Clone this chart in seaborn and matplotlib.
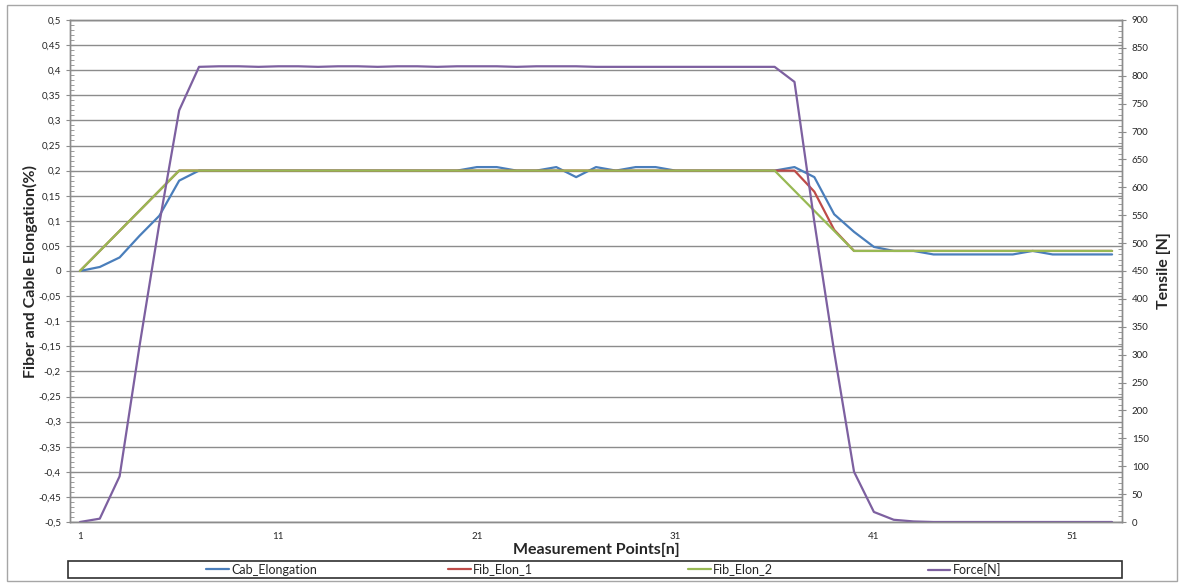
import numpy as np
import pandas as pd
import matplotlib
matplotlib.use("Agg")
import matplotlib.pyplot as plt
from matplotlib.ticker import MultipleLocator, FuncFormatter, FixedLocator
from matplotlib.patches import Rectangle
import seaborn as sns

# Measurement points (categories)
points = list(range(1, 54))

# Elongation series (%), left axis
cab_elongation = [0, 0.008, 0.027, 0.07, 0.11, 0.18, 0.2, 0.2, 0.2, 0.2,
                  0.2, 0.2, 0.2, 0.2, 0.2, 0.2, 0.2, 0.2, 0.2, 0.2,
                  0.207, 0.207, 0.2, 0.2, 0.207, 0.187, 0.207, 0.2, 0.207, 0.207,
                  0.2, 0.2, 0.2, 0.2, 0.2, 0.2, 0.207, 0.187, 0.113, 0.078,
                  0.048, 0.04, 0.04, 0.033, 0.033, 0.033, 0.033, 0.033, 0.04, 0.033,
                  0.033, 0.033, 0.033]
fib_elon_1 = [0, 0.04, 0.08, 0.12, 0.16, 0.2, 0.2, 0.2, 0.2, 0.2,
              0.2, 0.2, 0.2, 0.2, 0.2, 0.2, 0.2, 0.2, 0.2, 0.2,
              0.2, 0.2, 0.2, 0.2, 0.2, 0.2, 0.2, 0.2, 0.2, 0.2,
              0.2, 0.2, 0.2, 0.2, 0.2, 0.2, 0.2, 0.158, 0.082, 0.04,
              0.04, 0.04, 0.04, 0.04, 0.04, 0.04, 0.04, 0.04, 0.04, 0.04,
              0.04, 0.04, 0.04]
fib_elon_2 = [0, 0.04, 0.08, 0.12, 0.16, 0.2, 0.2, 0.2, 0.2, 0.2,
              0.2, 0.2, 0.2, 0.2, 0.2, 0.2, 0.2, 0.2, 0.2, 0.2,
              0.2, 0.2, 0.2, 0.2, 0.2, 0.2, 0.2, 0.2, 0.2, 0.2,
              0.2, 0.2, 0.2, 0.2, 0.2, 0.2, 0.16, 0.12, 0.08, 0.04,
              0.04, 0.04, 0.04, 0.04, 0.04, 0.04, 0.04, 0.04, 0.04, 0.04,
              0.04, 0.04, 0.04]

# Tensile force [N], right axis
force = [0, 6, 82, 315, 535, 738, 816, 817, 817, 816,
         817, 817, 816, 817, 817, 816, 817, 817, 816, 817,
         817, 817, 816, 817, 817, 817, 816, 816, 816, 816,
         816, 816, 816, 816, 816, 816, 789, 538, 305, 90,
         18, 4, 1, 0, 0, 0, 0, 0, 0, 0,
         0, 0, 0]

series_names = ['Cab_Elongation', 'Fib_Elon_1', 'Fib_Elon_2']
force_name = 'Force[N]'
x_tick_labels = [1, 11, 21, 31, 41, 51]

colors = {'Cab_Elongation': '#4A7EBB', 'Fib_Elon_1': '#BE4B48', 'Fib_Elon_2': '#98B954'}
force_color = '#7D60A0'
grid_gray = '#8c8c8c'

sns.set_style("white")
plt.rcParams['font.family'] = ['Lato', 'DejaVu Sans']

W, H = 1182, 583
fig = plt.figure(figsize=(W / 100, H / 100), dpi=100)
ax = fig.add_axes([70 / W, 1 - 522 / H, (1122 - 70) / W, 502 / H])
ax2 = ax.twinx()

df = pd.DataFrame({'point': points, 'Cab_Elongation': cab_elongation,
                   'Fib_Elon_1': fib_elon_1, 'Fib_Elon_2': fib_elon_2})
long = df.melt(id_vars='point', var_name='series', value_name='elongation')
sns.lineplot(data=long, x='point', y='elongation', hue='series', hue_order=series_names,
             palette=colors, linewidth=1.6, ax=ax, legend=False)
sns.lineplot(x=points, y=force, color=force_color, linewidth=1.6, ax=ax2, legend=False)

# axes limits and ticks
ax.set_xlim(0.5, 53.5)
ax.set_ylim(-0.5, 0.5)
ax2.set_ylim(0, 900)

comma = FuncFormatter(lambda v, p: f"{round(v, 4):g}".replace('.', ','))
ax.yaxis.set_major_locator(MultipleLocator(0.05))
ax.yaxis.set_minor_locator(MultipleLocator(0.01))
ax.yaxis.set_major_formatter(comma)
ax2.yaxis.set_major_locator(MultipleLocator(50))
ax2.yaxis.set_minor_locator(MultipleLocator(10))

ax.set_xticks(x_tick_labels)
ax.xaxis.set_minor_locator(FixedLocator(np.arange(0.5, 53.6, 1)))
ax.tick_params(axis='x', which='major', length=0, labelsize=7, pad=7)
ax.tick_params(axis='x', which='minor', length=4, direction='out', color=grid_gray, width=1)
ax.tick_params(axis='y', which='major', length=6, direction='inout', color=grid_gray,
               labelsize=7, pad=3.5, left=True)
ax.tick_params(axis='y', which='minor', length=3, direction='in', color=grid_gray, left=True)
ax2.tick_params(axis='y', which='major', length=6, direction='inout', color=grid_gray,
                labelsize=7, pad=4, right=True)
ax2.tick_params(axis='y', which='minor', length=3, direction='in', color=grid_gray, right=True)

ax.grid(axis='y', color=grid_gray, linewidth=1)
ax.grid(axis='x', visible=False)
ax2.grid(False)
ax.set_axisbelow(True)
for a in (ax, ax2):
    for s in a.spines.values():
        s.set_color(grid_gray)
        s.set_linewidth(1)

ax.set_xlabel('Measurement Points[n]', fontsize=11.5, fontweight='bold', labelpad=1.5)
ax.set_ylabel('Fiber and Cable Elongation(%)', fontsize=11.5, fontweight='bold', labelpad=0)
ax2.set_ylabel('Tensile [N]', fontsize=11.5, fontweight='bold', labelpad=6)

# legend box below the plot
fig.patches.append(Rectangle((68 / W, 1 - 578 / H), (1122 - 68) / W, 17 / H,
                             transform=fig.transFigure, fill=False,
                             edgecolor='#303030', linewidth=1.2))
handles = list(ax.lines[:3]) + [ax2.lines[0]]
labels = series_names + [force_name]
for h, lab, x0 in zip(handles, labels, [206, 448, 688, 928]):
    fig.legend([h], [lab], loc='center left', bbox_to_anchor=(x0 / W, 1 - 569.5 / H),
               frameon=False, handlelength=1.8, handletextpad=0.2, borderpad=0,
               borderaxespad=0, fontsize=9)

# outer chart border
fig.patches.append(Rectangle((7 / W, 1 - 581 / H), (1177 - 7) / W, (581 - 5) / H,
                             transform=fig.transFigure, fill=False,
                             edgecolor='#a6a6a6', linewidth=1))

fig.savefig('out.png', dpi=100)
